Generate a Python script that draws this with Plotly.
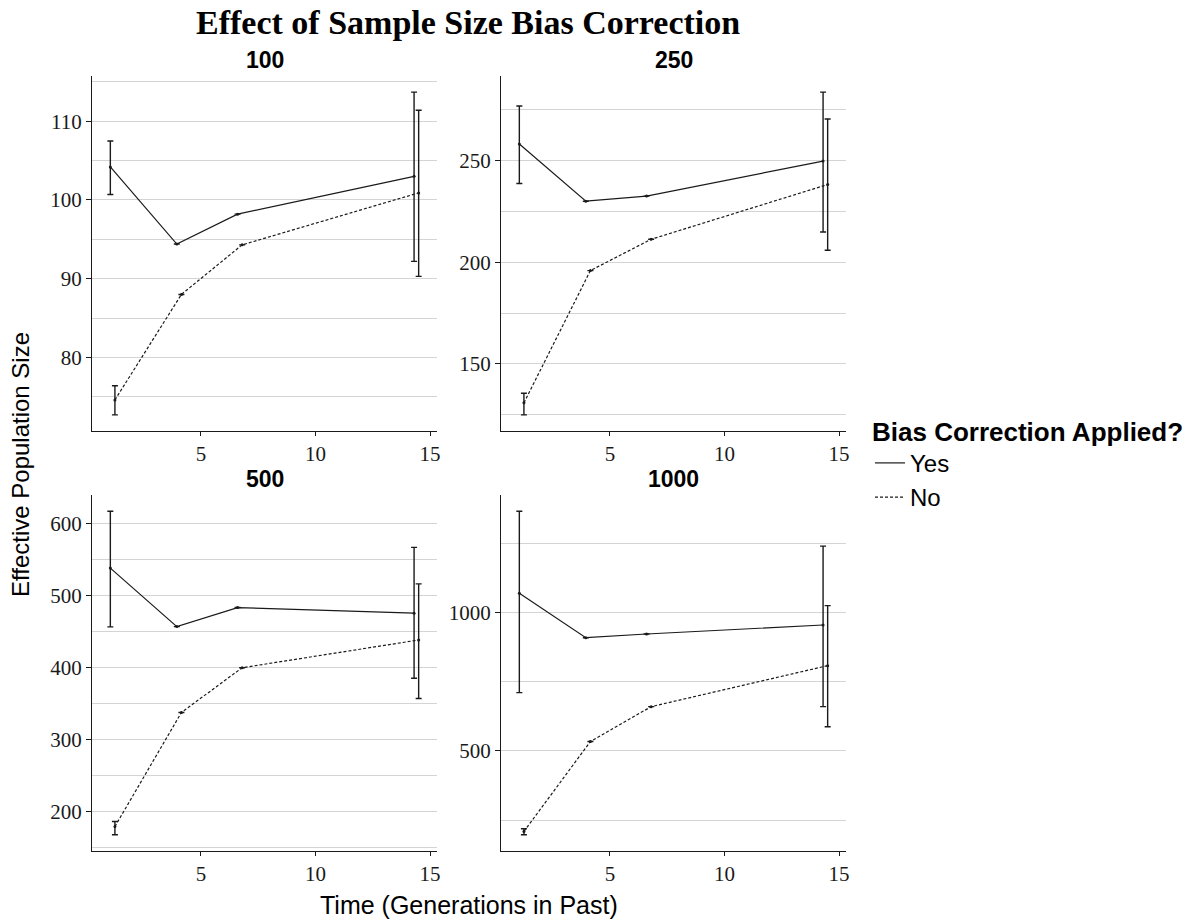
import plotly.graph_objects as go

W, H = 1191, 922

# Facet labels (sample size) and time points (generations in the past)
panels = ["100", "250", "500", "1000"]
generations = [1.15, 4.05, 6.7, 14.4]

# Mean Ne estimates, with lower/upper interval bounds (first and last time points only)
yes_mean = {
    "100": [104.2, 94.4, 98.2, 103.0],
    "250": [258.1, 230.0, 232.5, 249.7],
    "500": [538.6, 457.2, 483.7, 475.9],
    "1000": [1068.5, 908.4, 921.7, 954.2],
}
yes_lower = {
    "100": [100.7, None, None, 92.2],
    "250": [238.7, None, None, 214.9],
    "500": [456.8, None, None, 385.3],
    "1000": [710.0, None, None, 659.5],
}
yes_upper = {
    "100": [107.5, None, None, 113.7],
    "250": [276.8, None, None, 283.6],
    "500": [617.8, None, None, 567.5],
    "1000": [1365.0, None, None, 1239.0],
}
no_mean = {
    "100": [74.6, 88.0, 94.3, 100.9],
    "250": [130.9, 195.9, 211.3, 238.2],
    "500": [179.0, 337.7, 400.0, 438.6],
    "1000": [209.0, 533.7, 659.5, 807.6],
}
no_lower = {
    "100": [72.7, None, None, 90.3],
    "250": [125.0, None, None, 205.9],
    "500": [167.5, None, None, 357.2],
    "1000": [197.0, None, None, 587.0],
}
no_upper = {
    "100": [76.4, None, None, 111.4],
    "250": [135.6, None, None, 270.4],
    "500": [186.0, None, None, 516.7],
    "1000": [219.0, None, None, 1024.0],
}
major_step = {"100": 10, "250": 50, "500": 100, "1000": 500}

# panel boxes in pixels: (left, right, top, bottom)
boxes = [(92, 437, 76, 431), (501, 846, 76, 431), (92, 437, 495, 851), (501, 846, 495, 851)]
DODGE = 0.1
INK = "#1a1a1a"
GRID = "#d4d4d4"
SANS = "Liberation Sans"
SERIF = "Liberation Serif"


def errs(mean, lo, hi):
    plus = [None if h is None else h - m for m, h in zip(mean, hi)]
    minus = [None if l is None else m - l for m, l in zip(mean, lo)]
    return plus, minus


fig = go.Figure()
layout = {}
for i, (p, box) in enumerate(zip(panels, boxes)):
    k = "" if i == 0 else str(i + 1)
    xa, ya = "x" + k, "y" + k
    series = [
        ("Yes", -DODGE, yes_mean[p], yes_lower[p], yes_upper[p], "solid"),
        ("No", DODGE, no_mean[p], no_lower[p], no_upper[p], "3px,2px"),
    ]
    for name, off, mean, lo, hi, dash in series:
        plus, minus = errs(mean, lo, hi)
        xs = [g + off for g in generations]
        fig.add_trace(go.Scatter(
            x=xs, y=mean, name=name, mode="lines", xaxis=xa, yaxis=ya,
            line=dict(color=INK, width=1.2, dash=dash),
            error_y=dict(type="data", symmetric=False, array=plus, arrayminus=minus,
                         color=INK, thickness=1.4, width=3),
            showlegend=(i == 0),
        ))
        fig.add_trace(go.Scatter(
            x=xs, y=mean, mode="markers", xaxis=xa, yaxis=ya,
            marker=dict(color=INK, size=3), showlegend=False, hoverinfo="skip",
        ))
    lows = [v for v in yes_lower[p] + no_lower[p] + no_mean[p] + yes_mean[p] if v is not None]
    highs = [v for v in yes_upper[p] + no_upper[p] + no_mean[p] + yes_mean[p] if v is not None]
    lo_v, hi_v = min(lows), max(highs)
    pad = (hi_v - lo_v) * 0.05
    l, r, t, b = box
    layout["xaxis" + k] = dict(
        domain=[l / W, r / W], anchor=ya, range=[0.25, 15.3],
        tickvals=[5, 10, 15], showgrid=False, zeroline=False,
        showline=True, linecolor=INK, linewidth=1.2,
        ticks="outside", ticklen=4, tickcolor=INK, tickwidth=1,
        tickfont=dict(family=SERIF, size=21, color=INK),
        automargin=False,
    )
    step = major_step[p]
    layout["yaxis" + k] = dict(
        domain=[1 - b / H, 1 - t / H], anchor=xa, range=[lo_v - pad, hi_v + pad],
        dtick=step, tick0=0, showgrid=True, gridcolor=GRID, gridwidth=1,
        minor=dict(dtick=step / 2, tick0=0, showgrid=True, gridcolor=GRID, gridwidth=1),
        zeroline=False, showline=True, linecolor=INK, linewidth=1.2,
        ticks="outside", ticklen=5, tickcolor=INK, tickwidth=1,
        tickfont=dict(family=SERIF, size=21, color=INK),
        automargin=False,
    )

annotations = []
for p, (l, r, t, b) in zip(panels, boxes):
    annotations.append(dict(
        text="<b>" + p + "</b>", x=(l + r) / 2 / W, y=1 - (t - 16) / H,
        xref="paper", yref="paper", xanchor="center", yanchor="middle",
        showarrow=False, font=dict(family=SANS, size=23, color="black"),
    ))
annotations.append(dict(
    text="<b>Effect of Sample Size Bias Correction</b>", x=468 / W, y=1 - 22 / H,
    xref="paper", yref="paper", xanchor="center", yanchor="middle", showarrow=False,
    font=dict(family=SERIF, size=34, color="black"),
))
annotations.append(dict(
    text="Time (Generations in Past)", x=469 / W, y=1 - 905 / H,
    xref="paper", yref="paper", xanchor="center", yanchor="middle", showarrow=False,
    font=dict(family=SANS, size=25, color="black"),
))
annotations.append(dict(
    text="Effective Population Size", x=20 / W, y=1 - 465 / H, textangle=-90,
    xref="paper", yref="paper", xanchor="center", yanchor="middle", showarrow=False,
    font=dict(family=SANS, size=24, color="black"),
))

fig.update_layout(
    width=W, height=H, margin=dict(l=0, r=0, t=0, b=0),
    paper_bgcolor="white", plot_bgcolor="white",
    annotations=annotations,
    legend=dict(
        x=870 / W, y=1 - 407 / H, xanchor="left", yanchor="top",
        title=dict(text="<b>Bias Correction Applied?</b>",
                   font=dict(family=SANS, size=26, color="black")),
        font=dict(family=SANS, size=24, color="black"),
        bgcolor="rgba(0,0,0,0)", tracegroupgap=0,
    ),
    **layout,
)

fig.write_html("out.html")
